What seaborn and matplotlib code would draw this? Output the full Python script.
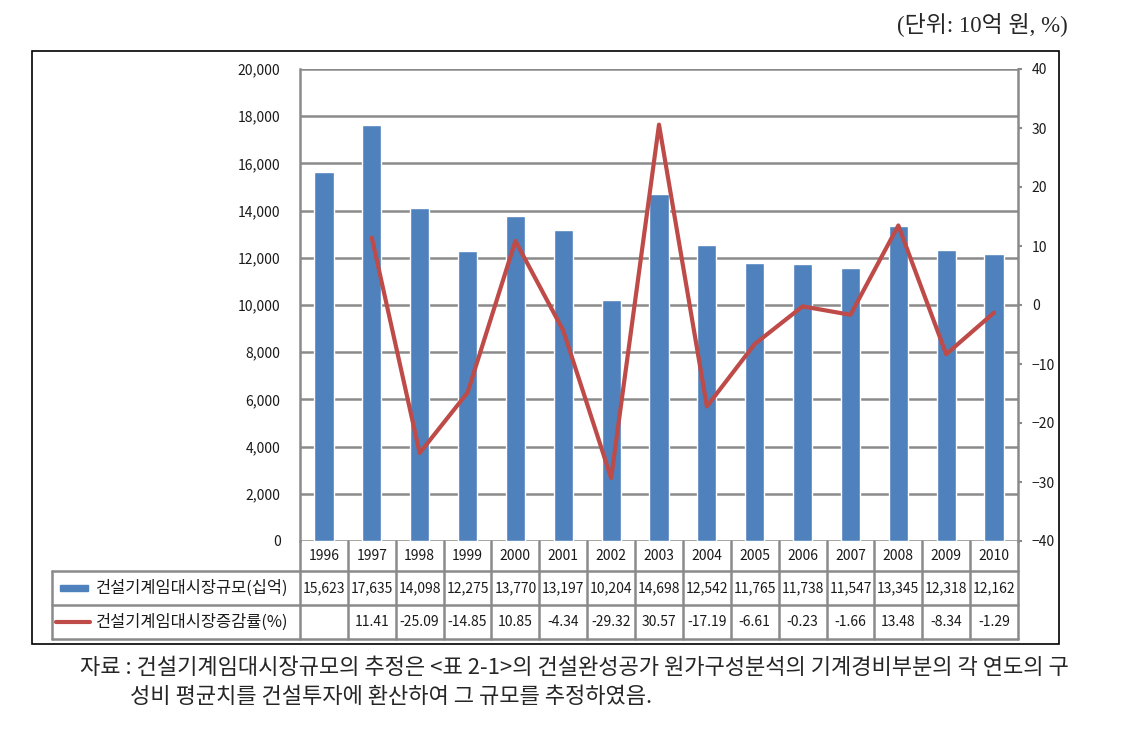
import matplotlib
matplotlib.use("Agg")
import matplotlib.pyplot as plt
import matplotlib.transforms as mtransforms
from matplotlib.patches import Rectangle
from matplotlib.ticker import FuncFormatter, MultipleLocator
import pandas as pd
import seaborn as sns

years = ["1996", "1997", "1998", "1999", "2000", "2001", "2002", "2003",
         "2004", "2005", "2006", "2007", "2008", "2009", "2010"]
market_size = [15623, 17635, 14098, 12275, 13770, 13197, 10204, 14698,
               12542, 11765, 11738, 11547, 13345, 12318, 12162]
growth_rate = [None, 11.41, -25.09, -14.85, 10.85, -4.34, -29.32, 30.57,
               -17.19, -6.61, -0.23, -1.66, 13.48, -8.34, -1.29]
size_label = "건설기계임대시장규모(십억)"
rate_label = "건설기계임대시장증감률(%)"
unit_text = "(단위: 10억 원, %)"
note_line1 = "자료 : 건설기계임대시장규모의 추정은 <표 2-1>의 건설완성공가 원가구성분석의 기계경비부분의 각 연도의 구"
note_line2 = "성비 평균치를 건설투자에 환산하여 그 규모를 추정하였음."

BLUE = "#4F81BD"
RED = "#BE4B48"
GRAY = "#8A8A8A"
TXT = "#1a1a1a"

sns.set_style("white")
plt.rcParams["font.family"] = ["Noto Sans CJK KR", "DejaVu Sans"]

df = pd.DataFrame({"year": years, "size": market_size})
rate_df = pd.DataFrame({"pos": range(len(years)), "rate": growth_rate}).dropna()

fig = plt.figure(figsize=(11.29, 7.30), dpi=100)
ax = fig.add_axes([300 / 1129, 1 - 541 / 730, 718 / 1129, 472 / 730])

sns.barplot(data=df, x="year", y="size", color=BLUE, saturation=1,
            width=0.4, ax=ax)
ax.set_xlim(-0.5, len(years) - 0.5)
ax.set_ylim(0, 20000)
ax.yaxis.set_major_locator(MultipleLocator(2000))
ax.yaxis.set_major_formatter(FuncFormatter(lambda v, p: f"{int(v):,}"))
ax.grid(axis="y", color=GRAY, lw=1.8)
ax.set_axisbelow(True)
ax.set_xlabel("")
ax.set_ylabel("")
ax.set_xticks([])
ax.tick_params(axis="y", length=0, pad=14, labelsize=10, colors=TXT)
for s in ["top", "bottom", "right"]:
    ax.spines[s].set_visible(False)
ax.spines["left"].set_color(GRAY)
ax.spines["left"].set_linewidth(1.8)

ax2 = ax.twinx()
sns.lineplot(data=rate_df, x="pos", y="rate", color=RED, lw=3.0, ax=ax2)
ax2.set_ylim(-40, 40)
ax2.yaxis.set_major_locator(MultipleLocator(10))
ax2.set_xlabel("")
ax2.set_ylabel("")
ax2.tick_params(axis="y", length=3, width=1.5, direction="out",
                pad=7, labelsize=10, colors=TXT)
ax2.tick_params(axis="y", color=GRAY)
for s in ["top", "bottom", "left"]:
    ax2.spines[s].set_visible(False)
ax2.spines["right"].set_color(GRAY)
ax2.spines["right"].set_linewidth(1.8)

# data table under the chart
tr = mtransforms.blended_transform_factory(ax.transData, ax.transAxes)
n = len(years)
row_y = [0.0, -30 / 472, -64 / 472, -98 / 472]
leg_left = -0.5 - 248 / 47.87
line_kw = dict(color=GRAY, lw=1.8, transform=tr, clip_on=False)
for k in range(n + 1):
    ax.plot([k - 0.5, k - 0.5], [row_y[0], row_y[3]], **line_kw)
for y in row_y[1:]:
    ax.plot([leg_left, n - 0.5], [y, y], **line_kw)
ax.plot([leg_left, leg_left], [row_y[1], row_y[3]], **line_kw)

txt_kw = dict(transform=tr, ha="center", va="center", fontsize=10,
              color=TXT, clip_on=False)
for i, yr in enumerate(years):
    ax.text(i, (row_y[0] + row_y[1]) / 2, yr, **txt_kw)
    ax.text(i, (row_y[1] + row_y[2]) / 2, f"{market_size[i]:,}", **txt_kw)
    if growth_rate[i] is not None:
        ax.text(i, (row_y[2] + row_y[3]) / 2, f"{growth_rate[i]:.2f}", **txt_kw)

ym1 = (row_y[1] + row_y[2]) / 2
ym2 = (row_y[2] + row_y[3]) / 2
ax.add_patch(Rectangle((leg_left + 8 / 47.87, ym1 - 3 / 472), 28 / 47.87,
                       6 / 472, transform=tr, color=BLUE, clip_on=False))
ax.plot([leg_left + 4 / 47.87, leg_left + 38 / 47.87], [ym2, ym2],
        color=RED, lw=3.0, transform=tr, clip_on=False)
ax.text(leg_left + 44 / 47.87, ym1, size_label, transform=tr, ha="left",
        va="center", fontsize=11.8, color=TXT)
ax.text(leg_left + 44 / 47.87, ym2, rate_label, transform=tr, ha="left",
        va="center", fontsize=11.8, color=TXT)

# outer frame
fig.patches.append(Rectangle((32 / 1129, 1 - 644 / 730), 1027 / 1129,
                             593 / 730, transform=fig.transFigure,
                             fill=False, ec="black", lw=1.2))

fig.text(1068 / 1129, 1 - 24 / 730, unit_text, ha="right", va="center",
         fontsize=16.5, family=["Liberation Serif", "Noto Sans CJK KR"])
fig.text(80 / 1129, 1 - 668 / 730, note_line1, ha="left", va="center",
         fontsize=15.9)
fig.text(130 / 1129, 1 - 697 / 730, note_line2, ha="left", va="center",
         fontsize=15.9)

fig.savefig("out.png", dpi=100)
